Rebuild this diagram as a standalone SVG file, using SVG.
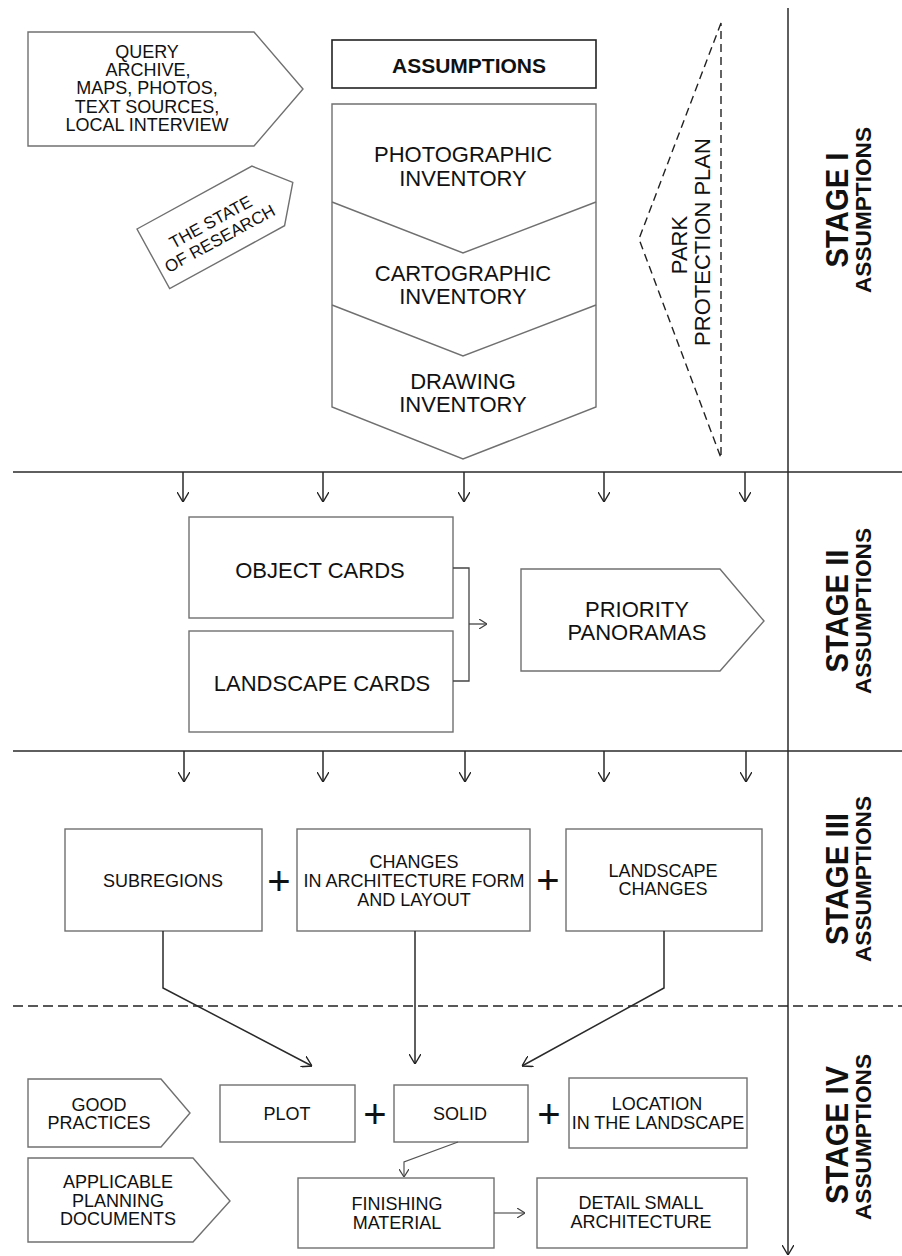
<svg xmlns="http://www.w3.org/2000/svg" width="902" height="1256" viewBox="0 0 902 1256">
<defs>
<marker id="arr" markerUnits="userSpaceOnUse" viewBox="0 0 10 12" refX="10" refY="6" markerWidth="10" markerHeight="12" orient="auto"><path d="M0,0 L10,6 L0,12" fill="none" stroke="#222" stroke-width="1.4"/></marker>
<marker id="arrS" markerUnits="userSpaceOnUse" viewBox="0 0 8 10" refX="8" refY="5" markerWidth="8" markerHeight="10" orient="auto"><path d="M0,0 L8,5 L0,10" fill="none" stroke="#444" stroke-width="1.2"/></marker>
</defs>
<style>
.box{fill:#fff;stroke:#707070;stroke-width:1.4}
.ln{fill:none;stroke:#2a2a2a;stroke-width:1.5}
.thin{fill:none;stroke:#555;stroke-width:1.2}
.dash{fill:none;stroke:#222;stroke-width:1.4;stroke-dasharray:10 5}
.t{font-family:"Liberation Sans",Arial,sans-serif;fill:#111;text-anchor:middle}
.t22{font-size:22px}
.t18{font-size:18px}
.t17{font-size:17px}
.plus{font-family:"Liberation Sans",Arial,sans-serif;font-size:40px;fill:#111;text-anchor:middle}
.stg{font-family:"Liberation Sans",Arial,sans-serif;font-weight:bold;font-size:32px;fill:#111;text-anchor:middle}
.asm{font-family:"Liberation Sans",Arial,sans-serif;font-weight:bold;font-size:22px;fill:#111;text-anchor:middle}
</style>
<rect width="902" height="1256" fill="#fff"/>

<!-- frame lines -->
<g id="frame">
<line class="ln" x1="788" y1="8" x2="788" y2="1255" marker-end="url(#arr)"/>
<line class="ln" x1="13" y1="472" x2="902" y2="472"/>
<line class="ln" x1="13" y1="751" x2="902" y2="751"/>
<line class="dash" x1="13" y1="1006" x2="902" y2="1006"/>
</g>

<!-- stage labels -->
<g id="stage1">
<text class="stg" transform="translate(848,210) rotate(-90)" textLength="115" lengthAdjust="spacingAndGlyphs">STAGE I</text>
<text class="asm" transform="translate(871,210) rotate(-90)" textLength="166" lengthAdjust="spacingAndGlyphs">ASSUMPTIONS</text>
</g>
<g id="stage2">
<text class="stg" transform="translate(848,611) rotate(-90)" textLength="123" lengthAdjust="spacingAndGlyphs">STAGE II</text>
<text class="asm" transform="translate(871,611) rotate(-90)" textLength="166" lengthAdjust="spacingAndGlyphs">ASSUMPTIONS</text>
</g>
<g id="stage3">
<text class="stg" transform="translate(848,879) rotate(-90)" textLength="132" lengthAdjust="spacingAndGlyphs">STAGE III</text>
<text class="asm" transform="translate(871,879) rotate(-90)" textLength="166" lengthAdjust="spacingAndGlyphs">ASSUMPTIONS</text>
</g>
<g id="stage4">
<text class="stg" transform="translate(848,1135) rotate(-90)" textLength="138" lengthAdjust="spacingAndGlyphs">STAGE IV</text>
<text class="asm" transform="translate(871,1137) rotate(-90)" textLength="166" lengthAdjust="spacingAndGlyphs">ASSUMPTIONS</text>
</g>

<!-- Stage I nodes -->
<g id="query">
<path class="box" d="M28,32 H254 L303,89 L254,146 H28 Z"/>
<text class="t t18" x="147" y="58">QUERY</text>
<text class="t t18" x="148" y="76">ARCHIVE,</text>
<text class="t t18" x="147" y="94">MAPS, PHOTOS,</text>
<text class="t t18" x="147" y="112.5">TEXT SOURCES,</text>
<text class="t t18" x="147" y="131">LOCAL INTERVIEW</text>
</g>
<g id="state-of-research" transform="translate(137,229) rotate(-28.7)">
<path class="box" d="M0,0 H131 L159,34 L131,68 H0 Z"/>
<text class="t t17" x="68" y="35">THE STATE</text>
<text class="t t17" x="68" y="54">OF RESEARCH</text>
</g>
<g id="assumptions">
<rect x="332" y="40" width="264" height="48" fill="#fff" stroke="#222" stroke-width="1.6"/>
<text class="t b" x="469" y="73" style="font-size:21px;font-weight:bold">ASSUMPTIONS</text>
</g>
<g id="inventory">
<path class="box" d="M332,104 H596 V407 L463,459 L332,407 Z"/>
<path class="box" d="M332,202 L463,253 L596,202"/>
<path class="box" d="M332,305 L463,356 L596,305"/>
<text class="t t22" x="463" y="162">PHOTOGRAPHIC</text>
<text class="t t22" x="463" y="186">INVENTORY</text>
<text class="t t22" x="463" y="281">CARTOGRAPHIC</text>
<text class="t t22" x="463" y="304">INVENTORY</text>
<text class="t t22" x="463" y="389">DRAWING</text>
<text class="t t22" x="463" y="412">INVENTORY</text>
</g>
<g id="park-protection-plan">
<path d="M721,23 L639,239 L721,458 Z" fill="none" stroke="#222" stroke-width="1.4" stroke-dasharray="8 5"/>
<text class="t t22" transform="translate(687,245) rotate(-90)">PARK</text>
<text class="t t22" transform="translate(710,242) rotate(-90)">PROTECTION PLAN</text>
</g>

<!-- Stage II nodes -->
<g id="object-cards">
<rect class="box" x="189" y="517" width="264" height="101"/>
<text class="t t22" x="320" y="578">OBJECT CARDS</text>
</g>
<g id="landscape-cards">
<rect class="box" x="189" y="631" width="264" height="101"/>
<text class="t t22" x="322" y="691">LANDSCAPE CARDS</text>
</g>
<g id="priority-panoramas">
<path class="box" d="M521,569 H720 L764,621 L720,671 H521 Z"/>
<text class="t t22" x="637" y="617">PRIORITY</text>
<text class="t t22" x="637" y="640">PANORAMAS</text>
</g>

<!-- Stage III nodes -->
<g id="subregions">
<rect class="box" x="65" y="829" width="197" height="102"/>
<text class="t t18" x="163" y="887">SUBREGIONS</text>
</g>
<text class="plus" x="279" y="895">+</text>
<g id="changes-architecture">
<rect class="box" x="297" y="829" width="233" height="102"/>
<text class="t t18" x="414" y="868">CHANGES</text>
<text class="t t18" x="414" y="887">IN ARCHITECTURE FORM</text>
<text class="t t18" x="414" y="905.5">AND LAYOUT</text>
</g>
<text class="plus" x="548" y="894">+</text>
<g id="landscape-changes">
<rect class="box" x="566" y="829" width="196" height="102"/>
<text class="t t18" x="663" y="877">LANDSCAPE</text>
<text class="t t18" x="663" y="895">CHANGES</text>
</g>

<!-- Stage IV nodes -->
<g id="good-practices">
<path class="box" d="M28,1079 H161 L190,1113 L161,1147 H28 Z"/>
<text class="t t18" x="99" y="1111">GOOD</text>
<text class="t t18" x="99" y="1129">PRACTICES</text>
</g>
<g id="planning-documents">
<path class="box" d="M28,1158 H193 L230,1201 L193,1242 H28 Z"/>
<text class="t t18" x="118" y="1188">APPLICABLE</text>
<text class="t t18" x="118" y="1207">PLANNING</text>
<text class="t t18" x="118" y="1225">DOCUMENTS</text>
</g>
<g id="plot">
<rect class="box" x="220" y="1085" width="135" height="57"/>
<text class="t t18" x="287" y="1119.5">PLOT</text>
</g>
<text class="plus" x="375" y="1128">+</text>
<g id="solid">
<rect class="box" x="394" y="1085" width="134" height="57"/>
<text class="t t18" x="460" y="1120">SOLID</text>
</g>
<text class="plus" x="549" y="1128">+</text>
<g id="location">
<rect class="box" x="569" y="1078" width="178" height="70"/>
<text class="t t18" x="657" y="1110">LOCATION</text>
<text class="t t18" x="658" y="1129">IN THE LANDSCAPE</text>
</g>
<g id="finishing-material">
<rect class="box" x="298" y="1178" width="196" height="70"/>
<text class="t t18" x="397" y="1210">FINISHING</text>
<text class="t t18" x="397" y="1229">MATERIAL</text>
</g>
<g id="detail-small-architecture">
<rect class="box" x="537" y="1178" width="210" height="70"/>
<text class="t t18" x="641" y="1209">DETAIL SMALL</text>
<text class="t t18" x="641" y="1228">ARCHITECTURE</text>
</g>

<!-- connectors -->
<g id="connectors">
<line class="ln" x1="183" y1="472" x2="183" y2="502" marker-end="url(#arr)"/>
<line class="ln" x1="323" y1="472" x2="323" y2="502" marker-end="url(#arr)"/>
<line class="ln" x1="464" y1="472" x2="464" y2="502" marker-end="url(#arr)"/>
<line class="ln" x1="604" y1="472" x2="604" y2="502" marker-end="url(#arr)"/>
<line class="ln" x1="745" y1="472" x2="745" y2="502" marker-end="url(#arr)"/>
<line class="ln" x1="184" y1="751" x2="184" y2="782" marker-end="url(#arr)"/>
<line class="ln" x1="323" y1="751" x2="323" y2="782" marker-end="url(#arr)"/>
<line class="ln" x1="465" y1="751" x2="465" y2="782" marker-end="url(#arr)"/>
<line class="ln" x1="604" y1="751" x2="604" y2="782" marker-end="url(#arr)"/>
<line class="ln" x1="746" y1="751" x2="746" y2="782" marker-end="url(#arr)"/>
<path d="M453,568 H469 V681 H453" fill="none" stroke="#444" stroke-width="1.3"/>
<line x1="469" y1="624" x2="487" y2="624" fill="none" stroke="#444" stroke-width="1.3" marker-end="url(#arrS)"/>
<path class="ln" d="M163,931 V988 L312,1066" marker-end="url(#arr)"/>
<path class="ln" d="M415,931 V1064" marker-end="url(#arr)"/>
<path class="ln" d="M664,931 V988 L522,1066" marker-end="url(#arr)"/>
<path class="thin" d="M458,1142 L404,1162 V1177" marker-end="url(#arrS)"/>
<line class="thin" x1="494" y1="1213" x2="525" y2="1213" marker-end="url(#arrS)"/>
</g>
</svg>
